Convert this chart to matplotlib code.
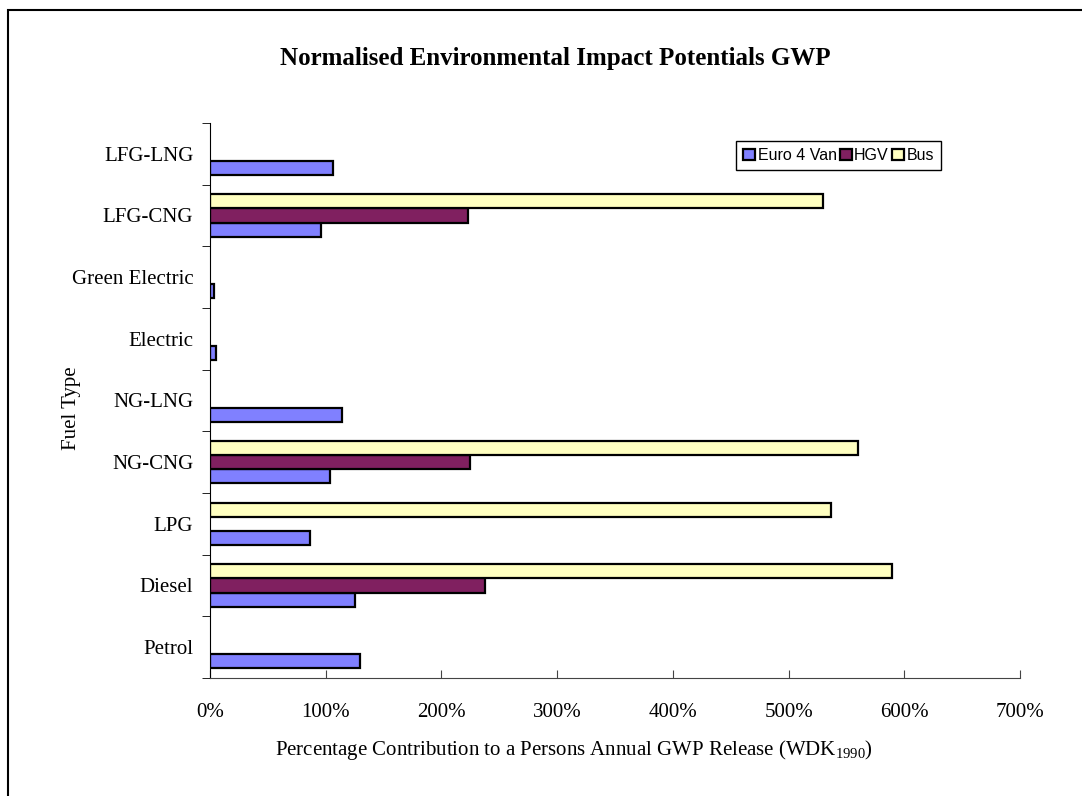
import matplotlib
matplotlib.use("Agg")
import matplotlib.pyplot as plt
from matplotlib.patches import Rectangle
import numpy as np

categories = ["Petrol", "Diesel", "LPG", "NG-CNG", "NG-LNG",
              "Electric", "Green Electric", "LFG-CNG", "LFG-LNG"]
series_names = ["Euro 4 Van", "HGV", "Bus"]
van = [130, 125, 86, 104, 114, 5, 3.5, 96, 106]
hgv = [np.nan, 238, np.nan, 225, np.nan, np.nan, np.nan, 223, np.nan]
bus = [np.nan, 589, 537, 560, np.nan, np.nan, np.nan, 530, np.nan]
x_ticks = [0, 100, 200, 300, 400, 500, 600, 700]

colors = ["#8080FF", "#802060", "#FFFFC0"]

plt.rcParams["font.family"] = ["Liberation Serif", "DejaVu Serif"]
plt.rcParams["mathtext.default"] = "regular"

W, H = 1082, 796
fig = plt.figure(figsize=(W / 100, H / 100), dpi=100)
ax = fig.add_axes([210 / W, 1 - 678 / H, 810 / W, 555 / H])

# outer chart border (runs off right/bottom edge)
fig.patches.append(Rectangle((7.5 / W, -0.05), 1.2, 1 - 10.5 / H + 0.05,
                             transform=fig.transFigure, fill=False,
                             edgecolor="black", linewidth=1.5))

y = np.arange(len(categories))
h = 0.228
for i, (vals, name) in enumerate(zip([van, hgv, bus], series_names)):
    ax.barh(y + (i - 1) * h, vals, height=h, color=colors[i],
            edgecolor="black", linewidth=1.6, label=name)

ax.set_xlim(0, 700)
ax.set_ylim(-0.5, len(categories) - 0.5)
ax.set_xticks(x_ticks)
ax.set_xticklabels([f"{v}%" for v in x_ticks], fontsize=15)
ax.tick_params(axis="x", direction="in", length=6, pad=18, color="#444444")

ax.set_yticks(y)
ax.set_yticklabels(categories, fontsize=15)
ax.set_yticks(np.arange(-0.5, len(categories)), minor=True)
ax.tick_params(axis="y", which="major", length=0, pad=12)
ax.tick_params(axis="y", which="minor", direction="out", length=6)

for s in ["top", "right"]:
    ax.spines[s].set_visible(False)
ax.spines["left"].set_color("black")
ax.spines["bottom"].set_color("#444444")

fig.text(574 / W, 1 - 750 / H,
         "Percentage Contribution to a Persons Annual GWP Release (WDK$_{1990}$)",
         ha="center", va="center", fontsize=15)
fig.text(71.5 / W, 1 - 408 / H, "Fuel Type", rotation=90,
         ha="center", va="center", fontsize=15)

fig.text(555 / W, 1 - 59 / H, "Normalised Environmental Impact Potentials GWP",
         ha="center", va="center", fontsize=18, fontweight="bold")

leg = ax.legend(ncol=3, loc="upper left", bbox_to_anchor=(526 / 810, 537 / 555),
                prop={"family": "Liberation Sans", "size": 11.5},
                handlelength=0.75, handleheight=0.75, handletextpad=0.15,
                columnspacing=0.2, borderaxespad=0, borderpad=0.45,
                fancybox=False, edgecolor="black", framealpha=1)
leg.get_frame().set_linewidth(1)

fig.savefig("out.png", dpi=100)
